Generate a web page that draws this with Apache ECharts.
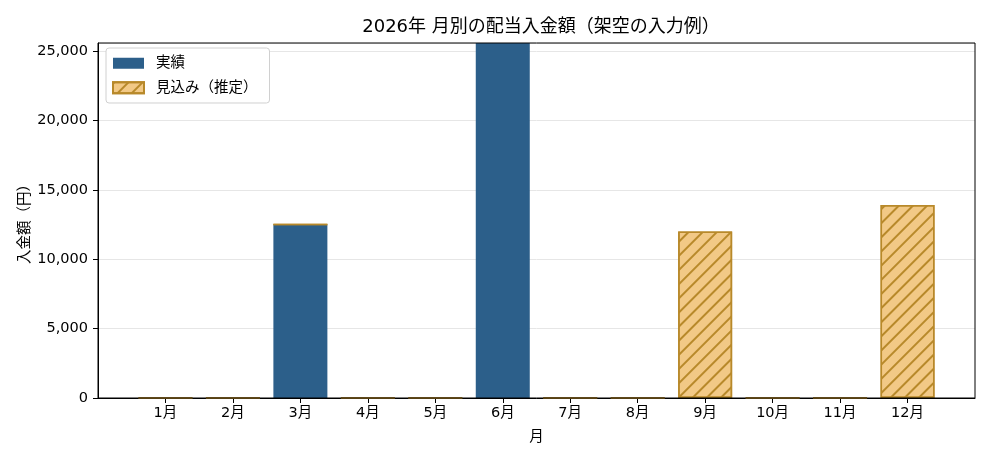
<!DOCTYPE html>
<html>
<head>
<meta charset="utf-8">
<script src="https://cdn.jsdelivr.net/npm/echarts@6/dist/echarts.min.js"></script>
<style>
  html, body { margin: 0; padding: 0; background: #fff; }
  #chart { width: 990px; height: 462px; }
</style>
</head>
<body>
<div id="chart"></div>
<script>
// data
const months = ["1月", "2月", "3月", "4月", "5月", "6月", "7月", "8月", "9月", "10月", "11月", "12月"];
const actual = [0, 0, 12500, 0, 0, 25800, 0, 0, 0, 0, 0, 0];
const estimate = [0, 0, 0, 0, 0, 0, 0, 0, 12000, 0, 0, 13900];
const yTicks = [0, 5000, 10000, 15000, 20000, 25000];

const FONT = "'DejaVu Sans', 'Noto Sans CJK JP', sans-serif";
const edge = "#b8892a";

// pad one empty slot on each side, like the reference's x range
const cats = [""].concat(months, [""]);
function pad(arr) {
    return [null].concat(arr, [null]);
}

var myChart = echarts.init(document.getElementById("chart"));
var option = {
    animation: false,
    textStyle: { fontFamily: FONT },
    title: {
        text: "2026年 月別の配当入金額（架空の入力例）",
        left: 536,
        top: 13,
        textAlign: "center",
        textStyle: { fontSize: 18, fontWeight: "normal", color: "#000", fontFamily: FONT },
    },
    legend: {
        left: 106,
        top: 48,
        orient: "vertical",
        icon: "rect",
        itemWidth: 31,
        itemHeight: 11,
        itemGap: 10,
        padding: [8, 12, 8, 6],
        backgroundColor: "#fff",
        borderColor: "#d0d0d0",
        borderWidth: 1,
        borderRadius: 3,
        textStyle: { fontSize: 14.5, color: "#000", fontFamily: FONT, padding: [0, 0, 0, 7] },
        data: ["実績", "見込み（推定）"],
    },
    grid: { left: 98, right: 15, top: 43, bottom: 64 },
    xAxis: {
        type: "category",
        data: cats,
        boundaryGap: false,
        name: "月",
        nameLocation: "middle",
        nameGap: 32,
        nameTextStyle: { fontSize: 14.5, color: "#000" },
        axisLine: { lineStyle: { color: "#000", width: 1 } },
        axisTick: {
            interval: function (i) { return i > 0 && i < cats.length - 1; },
            length: 5,
            lineStyle: { color: "#000" },
        },
        axisLabel: { interval: 0, fontSize: 14.5, color: "#000", margin: 8 },
        splitLine: { show: false },
    },
    yAxis: {
        type: "value",
        min: 0,
        max: 25576,
        interval: 5000,
        name: "入金額（円）",
        nameLocation: "middle",
        nameGap: 66,
        nameMoveOverlap: false,
        nameTextStyle: { fontSize: 14.5, color: "#000" },
        axisLine: { show: true, lineStyle: { color: "#000", width: 1 } },
        axisTick: { show: true, length: 5, lineStyle: { color: "#000" } },
        axisLabel: {
            fontSize: 14.5,
            color: "#000",
            margin: 10,
            showMaxLabel: false,
            formatter: function (v) {
                return yTicks.indexOf(v) >= 0 ? v.toLocaleString("en-US") : "";
            },
        },
        splitLine: { show: true, lineStyle: { color: "#e6e6e6", width: 1 } },
    },
    series: [
        {
            name: "実績",
            type: "bar",
            stack: "total",
            barWidth: 54,
            data: pad(actual),
            itemStyle: { color: "#2c5f8a" },
        },
        {
            name: "見込み（推定）",
            type: "bar",
            stack: "total",
            barWidth: 54,
            data: pad(estimate),
            itemStyle: {
                color: "#f2c986",
                borderColor: edge,
                borderWidth: 1.5,
                decal: {
                    symbol: "rect",
                    symbolSize: 1,
                    dashArrayX: [1, 0],
                    dashArrayY: [1.1, 7.6],
                    rotation: -Math.PI / 4,
                    color: edge,
                },
            },
        },
    ],
    graphic: [
        {
            type: "rect",
            shape: { x: 98, y: 43, width: 877, height: 355 },
            style: { fill: "none", stroke: "#000", lineWidth: 1 },
            silent: true,
            z: 100,
        },
    ],
};
myChart.setOption(option, true);
</script>
</body>
</html>
